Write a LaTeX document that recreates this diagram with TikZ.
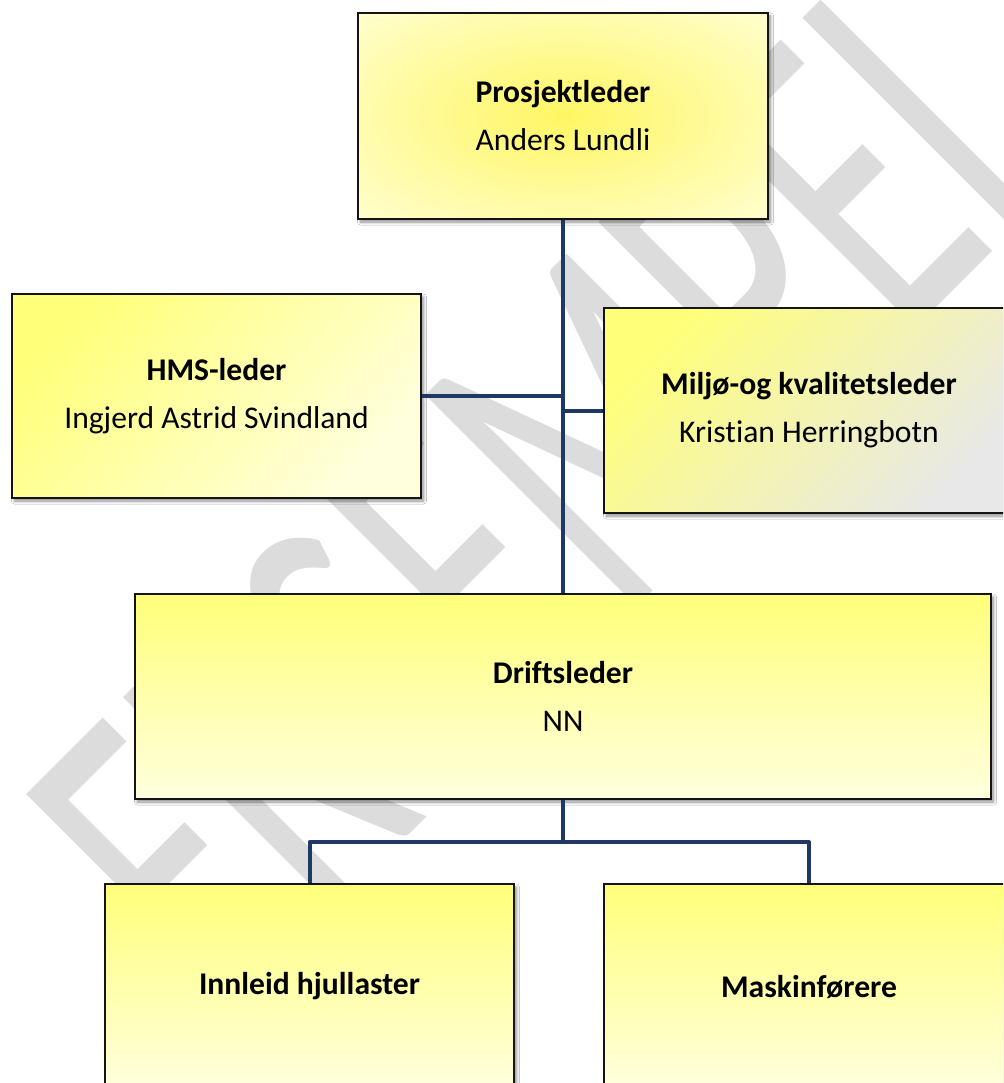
\documentclass[tikz,border=0pt]{standalone}
\usepackage{fontspec}
\setmainfont{Carlito}[Ligatures=NoCommon]
\usetikzlibrary{shadows.blur,calc}
\definecolor{yel}{RGB}{255,255,122}
\definecolor{pale}{RGB}{255,255,222}
\definecolor{pyel}{RGB}{255,246,100}
\definecolor{ppale}{RGB}{255,255,214}
\definecolor{midpale}{RGB}{246,246,200}
\definecolor{greyend}{RGB}{232,232,232}
\definecolor{navy}{RGB}{31,56,100}
\definecolor{wmgrey}{RGB}{220,220,220}
\definecolor{boxline}{RGB}{20,20,20}
\pgfdeclareradialshading{pradial}{\pgfpoint{0bp}{0bp}}{color(0bp)=(pyel); color(38bp)=(ppale); color(50bp)=(ppale)}
\begin{document}
\begin{tikzpicture}[x=1pt,y=-1pt,
  orgbox/.style={draw=boxline, line width=2pt, inner sep=0pt, anchor=north west,
    align=center, font=\fontsize{31.6}{48}\selectfont,
    blur shadow={shadow xshift=2.5pt, shadow yshift=-3pt, shadow blur radius=3pt, shadow blur steps=8, shadow opacity=45}},
  conn/.style={draw=navy, line width=4pt, line join=round}]
\useasboundingbox (0,0) rectangle (1003,1083);
\clip (0,0) rectangle (1003,1083);
\fill[white] (0,0) rectangle (1003,1083);
% watermark
\node[rotate=45, anchor=base west, inner sep=0pt, text=wmgrey,
  font=\fontsize{466}{466}\selectfont] (wm) at (223,1021) {\scalebox{0.62}[1]{EKSEMPEL}};
% boxes
\node[orgbox, shade, shading=pradial, minimum width=410pt, minimum height=206pt] (pl) at (357,12)
  {\textbf{Prosjektleder}\\Anders Lundli};
\node[orgbox, top color=yel, bottom color=pale, shading angle=45, minimum width=409pt, minimum height=204pt] (hms) at (11,293)
  {\textbf{HMS-leder}\\Ingjerd Astrid Svindland};
\node[orgbox, top color=yel, middle color=midpale, bottom color=greyend, shading angle=45, minimum width=410pt, minimum height=205pt] (mk) at (603,307)
  {\textbf{Miljø-og kvalitetsleder}\\Kristian Herringbotn};
\node[orgbox, top color=yel, bottom color=pale, minimum width=856pt, minimum height=205pt] (ds) at (134,593)
  {\textbf{Driftsleder}\\NN};
\node[orgbox, top color=yel, bottom color=pale, minimum width=409pt, minimum height=205pt] (inn) at (104,883)
  {\textbf{Innleid hjullaster}};
\node[orgbox, top color=yel, bottom color=pale, minimum width=410pt, minimum height=205pt] (mask) at (603,883)
  {\textbf{Maskinførere}};
% connectors
\draw[conn] (pl.south) -- (ds.north);
\draw[conn] (hms.east) -- (hms.east -| pl.south);
\draw[conn] (mk.west) -- (mk.west -| pl.south);
\coordinate (split) at ($(ds.south)+(0,42)$);
\draw[conn] (ds.south) -- (split) -| (inn.north);
\draw[conn] (split) -| (mask.north);
\end{tikzpicture}
\end{document}
